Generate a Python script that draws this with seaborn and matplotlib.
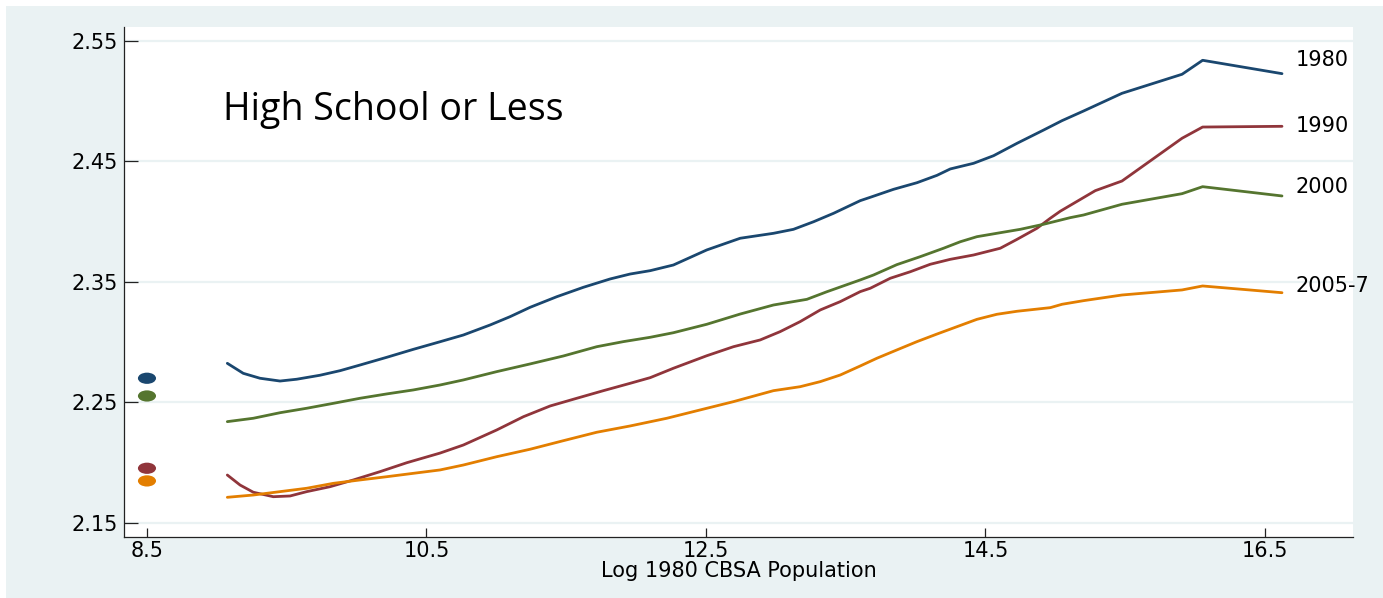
import numpy as np
import pandas as pd
import matplotlib
matplotlib.use("Agg")
import matplotlib.pyplot as plt
from matplotlib.patches import Rectangle
from matplotlib.path import Path
from matplotlib.transforms import Affine2D
import seaborn as sns

# Smoothed log wage by log 1980 CBSA population, one curve per census year
years = ["1980", "1990", "2000", "2005-7"]

x_1980 = [9.075, 9.189, 9.309, 9.452, 9.572, 9.738, 9.882, 10.025, 10.216, 10.406,
          10.597, 10.764, 10.955, 11.098, 11.242, 11.433, 11.623, 11.814, 11.957, 12.101,
          12.267, 12.506, 12.745, 12.983, 13.126, 13.270, 13.413, 13.604, 13.676, 13.842,
          14.010, 14.153, 14.248, 14.415, 14.558, 14.726, 14.916, 15.048, 15.202, 15.477,
          15.907, 16.054, 16.622]
y_1980 = [2.2825, 2.2742, 2.2701, 2.2678, 2.2693, 2.2726, 2.2764, 2.2811, 2.2875, 2.2941,
          2.3004, 2.3060, 2.3143, 2.3212, 2.3290, 2.3378, 2.3456, 2.3525, 2.3566, 2.3594,
          2.3641, 2.3766, 2.3863, 2.3904, 2.3937, 2.4000, 2.4070, 2.4175, 2.4203, 2.4269,
          2.4324, 2.4385, 2.4438, 2.4485, 2.4548, 2.4651, 2.4761, 2.4839, 2.4919, 2.5066,
          2.5224, 2.5340, 2.5229]

x_1990 = [9.075, 9.166, 9.261, 9.404, 9.524, 9.643, 9.810, 9.977, 10.168, 10.359,
          10.597, 10.764, 11.003, 11.194, 11.385, 11.576, 11.766, 11.957, 12.101, 12.267,
          12.506, 12.697, 12.888, 13.031, 13.174, 13.318, 13.461, 13.604, 13.676, 13.819,
          13.962, 14.105, 14.248, 14.415, 14.606, 14.726, 14.869, 14.964, 15.035, 15.286,
          15.477, 15.907, 16.054, 16.622]
y_1990 = [2.1898, 2.1815, 2.1755, 2.1718, 2.1724, 2.1760, 2.1801, 2.1857, 2.1926, 2.2000,
          2.2080, 2.2147, 2.2272, 2.2382, 2.2471, 2.2535, 2.2598, 2.2659, 2.2706, 2.2784,
          2.2888, 2.2963, 2.3019, 2.3088, 2.3171, 2.3268, 2.3337, 2.3420, 2.3448, 2.3531,
          2.3585, 2.3647, 2.3688, 2.3724, 2.3780, 2.3854, 2.3946, 2.4029, 2.4087, 2.4258,
          2.4338, 2.4693, 2.4786, 2.4792]

x_2000 = [9.075, 9.261, 9.452, 9.643, 9.834, 10.025, 10.216, 10.406, 10.597, 10.764,
          11.003, 11.242, 11.480, 11.719, 11.909, 12.101, 12.267, 12.506, 12.745, 12.983,
          13.222, 13.365, 13.604, 13.699, 13.866, 14.033, 14.200, 14.320, 14.439, 14.606,
          14.749, 14.916, 15.107, 15.202, 15.477, 15.907, 16.054, 16.622]
y_2000 = [2.2341, 2.2369, 2.2415, 2.2452, 2.2493, 2.2535, 2.2571, 2.2604, 2.2645, 2.2687,
          2.2756, 2.2820, 2.2886, 2.2963, 2.3005, 2.3041, 2.3079, 2.3149, 2.3234, 2.3309,
          2.3356, 2.3419, 2.3517, 2.3558, 2.3644, 2.3710, 2.3780, 2.3834, 2.3876, 2.3909,
          2.3937, 2.3979, 2.4034, 2.4056, 2.4145, 2.4233, 2.4291, 2.4214]

x_2005 = [9.075, 9.261, 9.452, 9.643, 9.834, 10.025, 10.216, 10.406, 10.597, 10.764,
          11.003, 11.242, 11.480, 11.719, 11.957, 12.220, 12.458, 12.697, 12.983, 13.174,
          13.318, 13.461, 13.604, 13.723, 13.866, 14.010, 14.153, 14.296, 14.439, 14.582,
          14.726, 14.964, 15.048, 15.202, 15.477, 15.907, 16.054, 16.622]
y_2005 = [2.1713, 2.1732, 2.1760, 2.1788, 2.1829, 2.1857, 2.1884, 2.1912, 2.1940, 2.1981,
          2.2050, 2.2112, 2.2183, 2.2253, 2.2305, 2.2369, 2.2438, 2.2507, 2.2598, 2.2631,
          2.2673, 2.2728, 2.2803, 2.2867, 2.2936, 2.3005, 2.3068, 2.3129, 2.3190, 2.3232,
          2.3257, 2.3287, 2.3315, 2.3345, 2.3392, 2.3434, 2.3467, 2.3411]

# Smallest-CBSA reference points plotted at the left edge
dot_x = 8.5
dot_y = [2.2701, 2.1954, 2.2554, 2.1849]

x_ticks = [8.5, 10.5, 12.5, 14.5, 16.5]
x_tick_labels = ["8.5", "10.5", "12.5", "14.5", "16.5"]
y_ticks = [2.15, 2.25, 2.35, 2.45, 2.55]
y_tick_labels = ["2.15", "2.25", "2.35", "2.45", "2.55"]

title_text = "High School or Less"
x_label = "Log 1980 CBSA Population"

colors = {"1980": "#1A476F", "1990": "#90353B", "2000": "#55752F", "2005-7": "#E37E00"}
bg = "#EAF2F3"

series = {"1980": (x_1980, y_1980), "1990": (x_1990, y_1990),
          "2000": (x_2000, y_2000), "2005-7": (x_2005, y_2005)}
lines_df = pd.concat(
    [pd.DataFrame({"x": xs, "y": ys, "year": yr}) for yr, (xs, ys) in series.items()],
    ignore_index=True)
dots_df = pd.DataFrame({"x": [dot_x] * len(years), "y": dot_y, "year": years})

sns.set_style("white")
plt.rcParams["font.family"] = ["DejaVu Sans"]

fig = plt.figure(figsize=(13.83, 5.98), dpi=100, facecolor="white")
fig.add_artist(Rectangle((6 / 1383, 0), 1, (598 - 6) / 598, transform=fig.transFigure,
                         facecolor=bg, edgecolor="none", zorder=0))
ax = fig.add_axes([0.0900, 0.1025, 0.8883, 0.8523])
ax.set_facecolor("white")

sns.lineplot(data=lines_df, x="x", y="y", hue="year", hue_order=years, palette=colors,
             estimator=None, sort=False, linewidth=2.0, legend=False, ax=ax, zorder=3)

# Slightly wide oval marker
oval = Path.unit_circle().transformed(Affine2D().scale(1.0, 0.62))
sns.scatterplot(data=dots_df, x="x", y="y", hue="year", hue_order=years, palette=colors,
                marker=oval, s=170, edgecolor="none", legend=False, ax=ax, zorder=4)

for yr in years:
    xs, ys = series[yr]
    ax.annotate(yr, xy=(xs[-1], max(ys)), xytext=(10, 0), textcoords="offset points",
                ha="left", va="center", fontsize=15, color="black", annotation_clip=False)

ax.set_xlim(8.339, 17.13)
ax.set_ylim(2.1386, 2.5616)
ax.set_xticks(x_ticks)
ax.set_xticklabels(x_tick_labels)
ax.set_yticks(y_ticks)
ax.set_yticklabels(y_tick_labels)
ax.grid(axis="y", color=bg, linewidth=1.6, zorder=0)
ax.grid(axis="x", visible=False)
ax.set_axisbelow(True)

for side in ["top", "right"]:
    ax.spines[side].set_visible(False)
for side in ["left", "bottom"]:
    ax.spines[side].set_color("#222222")
    ax.spines[side].set_linewidth(0.9)

ax.tick_params(axis="y", direction="in", length=10, width=0.9, color="#222222",
               pad=4.5, labelsize=15, labelcolor="black", left=True)
ax.tick_params(axis="x", direction="in", length=6.5, width=0.9, color="#222222",
               pad=3, labelsize=15, labelcolor="black", bottom=True)

ax.set_xlabel(x_label, fontsize=15, color="black", labelpad=0)
ax.set_ylabel("")

ax.text(0.0805, 0.8175, title_text, transform=ax.transAxes, ha="left", va="baseline",
        fontsize=27, family=["Open Sans", "DejaVu Sans"], color="black")

fig.savefig("out.png", dpi=100, facecolor=fig.get_facecolor())
